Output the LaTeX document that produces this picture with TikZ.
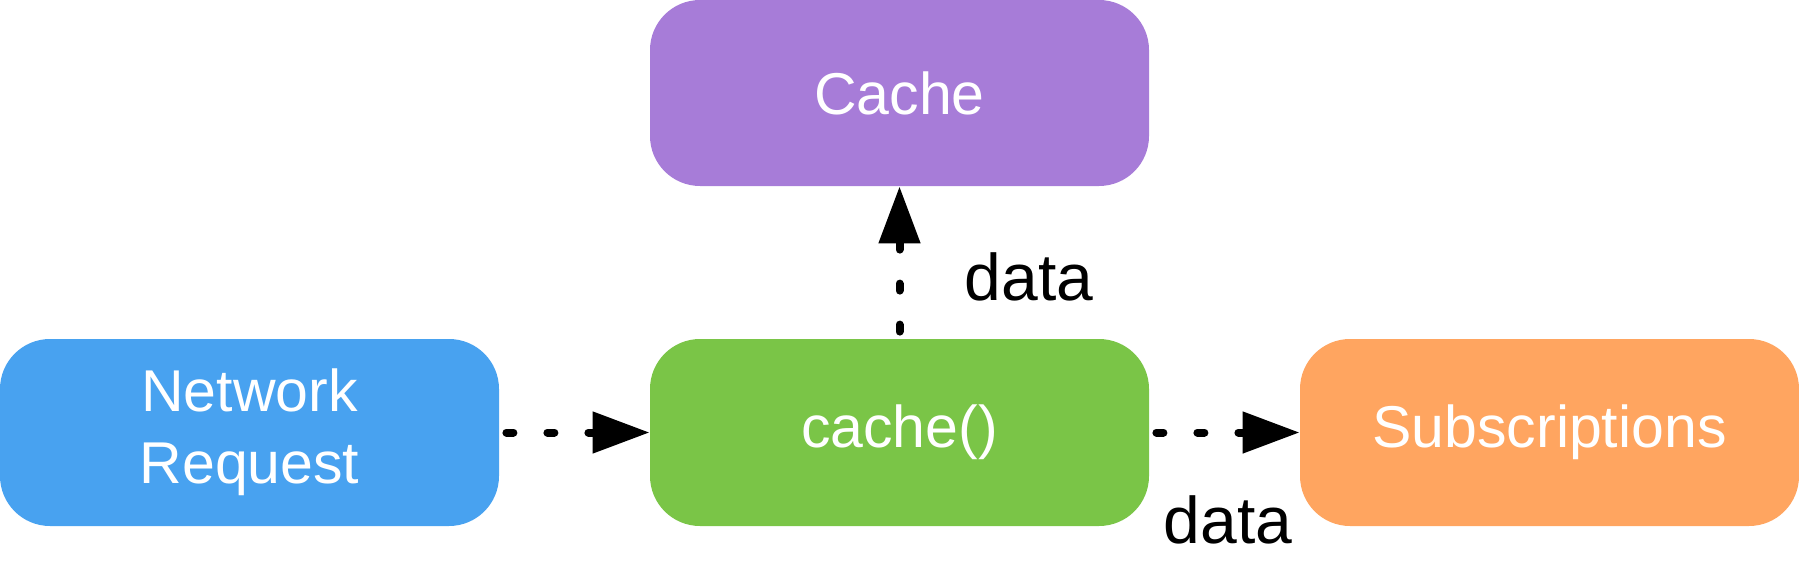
\documentclass[tikz,border=0pt]{standalone}
\usepackage{fontspec}
\setmainfont{Liberation Sans}
\usetikzlibrary{arrows.meta}

\definecolor{cachepurple}{RGB}{167,124,216}
\definecolor{netblue}{RGB}{72,162,240}
\definecolor{fngreen}{RGB}{122,197,71}
\definecolor{suborange}{RGB}{255,165,96}

\tikzset{
  stage/.style={rounded corners=25pt, minimum width=249.5pt, minimum height=93.5pt,
    inner sep=0pt, text=white, align=center, font=\fontsize{29.5}{36}\selectfont},
  flow/.style={line width=4pt, line cap=round, dash pattern=on 3.5pt off 17pt,
    dash phase=17pt, -{Triangle[length=28.5pt,width=20pt]}},
  flowlabel/.style={anchor=base, inner sep=0pt, font=\fontsize{33}{40}\selectfont}
}

\begin{document}
\begin{tikzpicture}[x=0.5pt,y=0.5pt,yscale=-1,xscale=1]
\useasboundingbox (0,0) rectangle (1799,583);

%Shape: Rounded Rect [id:store]
\node[stage, fill=cachepurple, minimum height=93pt] (store) at (899.5,93) {Cache};
%Shape: Rounded Rect [id:net]
\node[stage, fill=netblue] (net) at (249.5,432.5) {Network\\Request};
%Shape: Rounded Rect [id:cachefn]
\node[stage, fill=fngreen] (cachefn) at (899.5,432.5) {cache()};
%Shape: Rounded Rect [id:subs]
\node[stage, fill=suborange] (subs) at (1549.5,432.5) {Subscriptions};

%Straight Lines
\draw[flow] (net) -- (cachefn);
\draw[flow] (cachefn) -- (store);
\draw[flow] (cachefn) -- (subs);

% Text Node
\node[flowlabel] (uplabel) at (1029,300) {data};
% Text Node
\node[flowlabel] (sublabel) at (1228,543) {data};
\end{tikzpicture}
\end{document}
